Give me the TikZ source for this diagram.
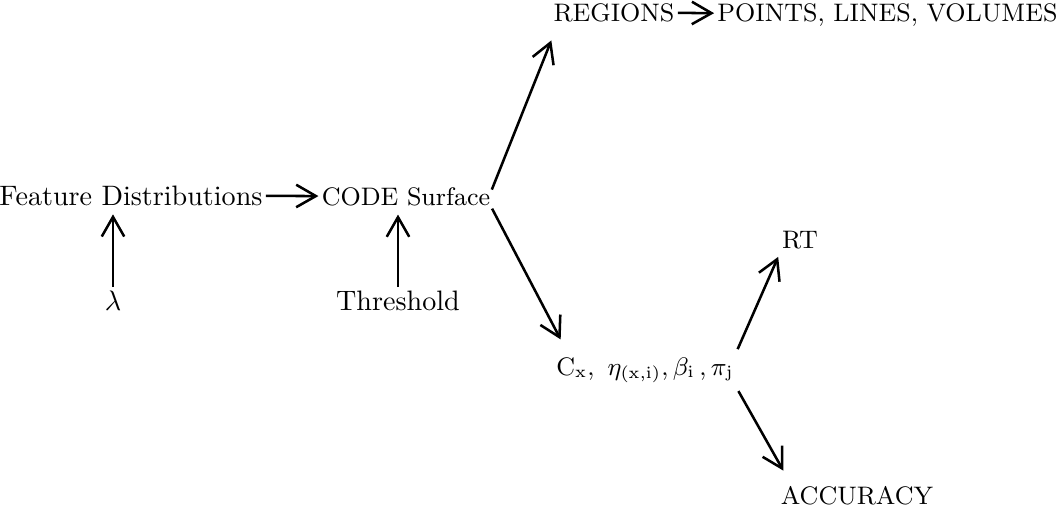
\documentclass[tikz,border=0pt]{standalone}
\usetikzlibrary{arrows.meta}
\tikzset{
  lbl/.style={inner sep=0pt, anchor=base, font=\fontsize{10}{12}\selectfont},
  caps/.style={inner sep=0pt, anchor=base, font=\fontsize{9}{11}\selectfont},
  arr/.style={-{Straight Barb[length=7pt,width=8pt]}, line width=0.9pt, shorten >=1pt, shorten <=1pt},
  far/.style={shorten >=7pt, shorten <=1pt}
}
\begin{document}
\begin{tikzpicture}[x=0.0125cm, y=-0.0125cm]
            \useasboundingbox (0,0) rectangle (1063,507);
            % nodes
            \node[lbl] (feat) at (131, 205) {Feature Distributions};
            \node[caps] (code) at (406, 205) {CODE Surface};
            \node[lbl] (lam) at (113, 310) {$\lambda$};
            \node[lbl] (thr) at (398, 310) {Threshold};
            \node[caps, anchor=base west] (reg) at (553, 21) {REGIONS};
            \node[caps, anchor=base east] (pts) at (1058, 21) {POINTS, LINES, VOLUMES};
            \node[caps] (cx) at (645, 375) {$\mathrm{C}_{\mathrm{x}},\ \eta_{(\mathrm{x},\mathrm{i})}, \beta_{\mathrm{i}}\,, \pi_{\mathrm{j}}$};
            \node[caps] (rt) at (800, 248) {RT};
            \node[caps] (acc) at (857, 504) {ACCURACY};
            % connectors
            \draw[arr] (feat) -- (code);
            \draw[arr, shorten >=3pt] (lam.north) -- (lam.north |- feat.south);
            \draw[arr, shorten >=3pt] (thr.north) -- (thr.north |- code.south);
            \draw[arr, far] ([yshift=-2pt]code.north east) -- ([xshift=2pt]reg.south west);
            \draw[arr, far] (code.south east) -- ([xshift=5pt]cx.north west);
            \draw[arr] (reg) -- (pts);
            \draw[arr, shorten <=3pt, shorten >=3pt] (cx.north east) -- (rt.south west);
            \draw[arr, shorten <=3pt, shorten >=6pt] (cx.south east) -- ([xshift=4pt]acc.north west);
        \end{tikzpicture}
\end{document}
